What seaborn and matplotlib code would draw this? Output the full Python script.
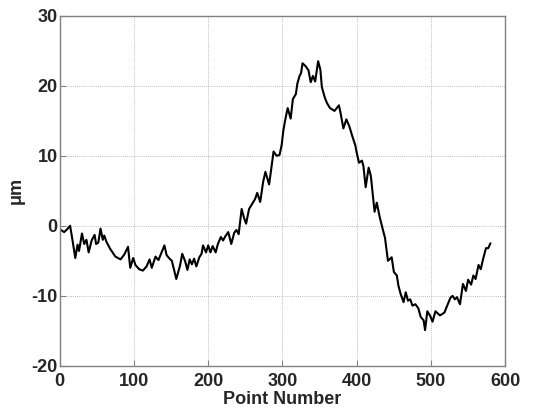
import matplotlib
matplotlib.use("Agg")
import matplotlib.pyplot as plt
import seaborn as sns
import pandas as pd

# Point number (x) and height in micrometres (y)
point_number = [
    0, 6, 10, 14, 17, 21, 24, 26, 30, 33, 36, 39, 43, 47, 49, 52, 55, 58, 60, 63,
    68, 75, 82, 87, 92, 95, 99, 102, 107, 112, 117, 121, 124, 129, 133, 136, 141, 144, 148, 151,
    157, 162, 165, 169, 172, 175, 178, 181, 184, 188, 191, 193, 197, 200, 203, 206, 210, 213, 217, 220,
    223, 227, 231, 235, 238, 241, 245, 248, 251, 255, 263, 266, 270, 274, 277, 282, 285, 288, 292, 296,
    299, 301, 304, 307, 311, 314, 318, 320, 323, 325, 327, 331, 335, 338, 341, 344, 348, 351, 353, 357,
    360, 364, 370, 376, 378, 382, 386, 390, 394, 398, 400, 403, 407, 409, 412, 416, 419, 424, 427, 431,
    435, 438, 442, 447, 450, 454, 456, 459, 463, 466, 469, 472, 475, 479, 483, 486, 490, 492, 495, 499,
    502, 506, 512, 518, 526, 529, 532, 535, 539, 543, 547, 550, 554, 557, 560, 564, 567, 570, 574, 577,
    580,
]
height_um = [
    -0.5, -0.9, -0.5, 0.0, -1.9, -4.6, -2.7, -3.6, -1.1, -2.6, -2.0, -3.8, -2.1, -1.3, -2.6, -2.4, -0.4, -2.0, -1.4, -2.3,
    -3.3, -4.4, -4.8, -4.1, -3.0, -6.0, -4.6, -5.6, -6.2, -6.4, -5.8, -4.8, -6.0, -4.4, -4.9, -4.1, -2.8, -4.2, -4.7, -5.0,
    -7.6, -5.7, -4.0, -5.1, -6.3, -4.8, -5.5, -4.7, -5.8, -4.5, -4.0, -2.8, -3.8, -2.8, -3.8, -2.9, -3.8, -2.6, -1.6, -2.1,
    -1.5, -0.9, -2.6, -1.0, -0.6, -1.2, 2.4, 1.2, 0.3, 2.4, 3.8, 4.7, 3.4, 6.3, 7.7, 5.9, 8.3, 10.6, 10.0, 10.1,
    11.6, 13.5, 15.3, 16.8, 15.3, 18.1, 18.8, 20.3, 21.4, 21.8, 23.2, 22.8, 22.2, 20.5, 21.4, 20.6, 23.5, 22.3, 19.8, 18.3,
    17.5, 16.8, 16.4, 17.2, 16.2, 13.9, 15.2, 14.2, 12.8, 11.5, 10.4, 9.0, 9.3, 8.5, 5.5, 8.3, 7.1, 2.0, 3.3, 1.2,
    -0.5, -1.7, -5.0, -4.5, -6.6, -7.1, -8.5, -9.7, -10.9, -9.5, -10.7, -10.5, -11.4, -11.2, -11.8, -13.0, -13.5, -14.9, -12.2, -12.9,
    -13.7, -12.2, -12.8, -12.4, -10.3, -10.0, -10.5, -10.2, -11.2, -8.3, -9.3, -7.7, -8.4, -7.1, -7.6, -5.6, -6.2, -4.8, -3.2, -3.2,
    -2.5,
]

x_ticks = [0, 100, 200, 300, 400, 500, 600]
y_ticks = [-20, -10, 0, 10, 20, 30]
x_label = "Point Number"
y_label = "μm"

sns.set_style("white")
plt.rcParams["font.family"] = ["Liberation Sans", "DejaVu Sans"]
plt.rcParams["font.weight"] = "bold"

fig = plt.figure(figsize=(5.33, 4.12), dpi=100)
ax = fig.add_axes([0.112, 0.112, 0.836, 0.850])

df = pd.DataFrame({"x": point_number, "y": height_um})
sns.lineplot(data=df, x="x", y="y", ax=ax, color="black", linewidth=1.5, sort=False)

ax.set_xlim(0, 600)
ax.set_ylim(-20, 30)
ax.set_xticks(x_ticks)
ax.set_yticks(y_ticks)
ax.set_xticklabels([str(t) for t in x_ticks], fontsize=13, fontweight="bold")
ax.set_yticklabels([str(t) for t in y_ticks], fontsize=13, fontweight="bold")
ax.grid(True, linestyle=(0, (1, 1.5)), color="#a8a8a8", linewidth=0.6)
for s in ax.spines.values():
    s.set_visible(True)
    s.set_color("#808080")
    s.set_linewidth(1.0)
ax.tick_params(axis="both", direction="in", length=4, color="#808080",
               top=False, right=False, left=True, bottom=True)
ax.tick_params(axis="x", pad=5)
ax.tick_params(axis="y", pad=1.5)
ax.set_xlabel(x_label, fontsize=13, fontweight="bold", labelpad=1)
ax.set_ylabel(y_label, fontsize=13, fontweight="bold", labelpad=5)

fig.savefig("out.png", dpi=100)
